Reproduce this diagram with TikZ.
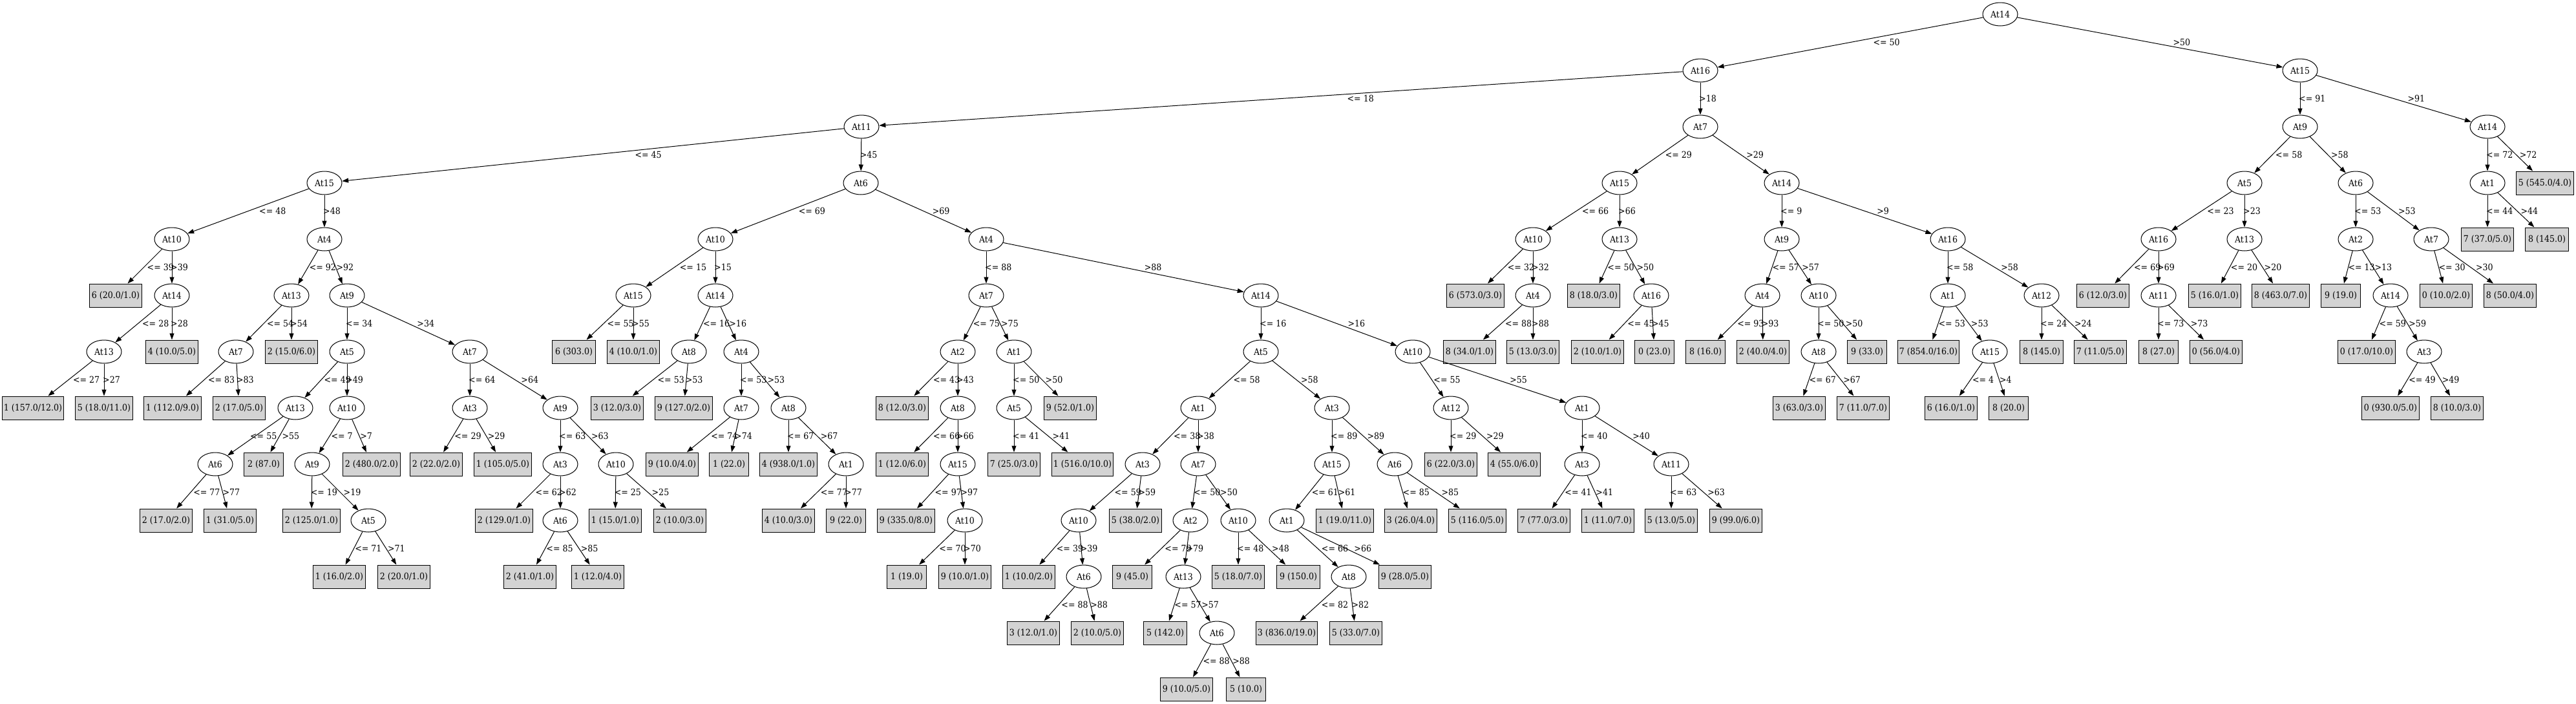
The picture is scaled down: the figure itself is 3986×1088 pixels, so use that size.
\documentclass[tikz,border=0pt]{standalone}
\usepackage{fontspec}
\setmainfont{DejaVu Serif}[FakeStretch=0.9]
\newfontfamily\tms{Liberation Serif}
\usetikzlibrary{arrows.meta,shapes.geometric,calc}
\definecolor{leafgray}{HTML}{D3D3D3}
\newlength\leafwd
% leaf box is as wide as the Times text plus margins
\newcommand\lw[1]{\settowidth\leafwd{\tms #1}\addtolength\leafwd{16pt}\makebox[\leafwd]{#1}}
% arrow from parent to child, label right of its middle
\newcommand\splitedge[4][0]{%
  \draw[branch] (#2) -- (#3);
  \path let \p1=(#2), \p2=(#3) in ($(#2)!0.5!(#3)$) ++({7*abs((\x2)-(\x1))/((\y1)-(\y2))-2+#1},0) node[cond] {#4};}

\begin{document}
\begin{tikzpicture}[x=1pt,y=1pt,font=\fontsize{14}{16}\selectfont,
  attr/.style={ellipse, draw, line width=1pt, minimum width=54pt, minimum height=36pt, inner sep=0pt},
  leaf/.style={rectangle, draw, line width=1pt, fill=leafgray, minimum width=54pt, minimum height=36pt, inner sep=0pt},
  branch/.style={line width=1pt, -{Triangle[length=10pt,width=7pt]}},
  cond/.style={anchor=west, inner sep=0pt}]
\useasboundingbox (0,0) rectangle (3986,-1088);
% rows at y = 22 + 87k
\node[attr] (x) at (3095,-22) {At14};
\node[attr] (xl) at (2631,-109) {At16};
\node[attr] (xr) at (3559,-109) {At15};
\node[attr] (xll) at (1333,-196) {At11};
\node[attr] (xlr) at (2631,-196) {At7};
\node[attr] (xlll) at (502,-283) {At15};
\node[attr] (xllr) at (1332,-283) {At6};
\node[attr] (xllll) at (266,-370) {At10};
\node[attr] (xlllr) at (502,-370) {At4};
\node[leaf] (xlllll) at (179,-457) {\lw{6 (20.0/1.0)}};
\node[attr] (xllllr) at (266,-457) {At14};
\node[attr] (xllllrl) at (161,-544) {At13};
\node[leaf] (xllllrr) at (266,-544) {\lw{4 (10.0/5.0)}};
\node[leaf] (xllllrll) at (51,-631) {\lw{1 (157.0/12.0)}};
\node[leaf] (xllllrlr) at (161,-631) {\lw{5 (18.0/11.0)}};
\node[attr] (xlllrl) at (451,-457) {At13};
\node[attr] (xlllrr) at (537,-457) {At9};
\node[attr] (xlllrll) at (365,-544) {At7};
\node[leaf] (xlllrlr) at (451,-544) {\lw{2 (15.0/6.0)}};
\node[leaf] (xlllrlll) at (267,-631) {\lw{1 (112.0/9.0)}};
\node[leaf] (xlllrllr) at (370,-631) {\lw{2 (17.0/5.0)}};
\node[attr] (xlllrrl) at (537,-544) {At5};
\node[attr] (xlllrrr) at (727,-544) {At7};
\node[attr] (xlllrrll) at (457,-631) {At13};
\node[attr] (xlllrrlr) at (537,-631) {At10};
\node[attr] (xlllrrlll) at (333,-718) {At6};
\node[leaf] (xlllrrllr) at (408,-718) {\lw{2 (87.0)}};
\node[leaf] (xlllrrllll) at (257,-805) {\lw{2 (17.0/2.0)}};
\node[leaf] (xlllrrlllr) at (356,-805) {\lw{1 (31.0/5.0)}};
\node[attr] (xlllrrlrl) at (483,-718) {At9};
\node[leaf] (xlllrrlrr) at (575,-718) {\lw{2 (480.0/2.0)}};
\node[leaf] (xlllrrlrll) at (482,-805) {\lw{2 (125.0/1.0)}};
\node[attr] (xlllrrlrlr) at (570,-805) {At5};
\node[leaf] (xlllrrlrlrl) at (525,-892) {\lw{1 (16.0/2.0)}};
\node[leaf] (xlllrrlrlrr) at (625,-892) {\lw{2 (20.0/1.0)}};
\node[attr] (xlllrrrl) at (727,-631) {At3};
\node[attr] (xlllrrrr) at (867,-631) {At9};
\node[leaf] (xlllrrrll) at (675,-718) {\lw{2 (22.0/2.0)}};
\node[leaf] (xlllrrrlr) at (778,-718) {\lw{1 (105.0/5.0)}};
\node[attr] (xlllrrrrl) at (867,-718) {At3};
\node[attr] (xlllrrrrr) at (953,-718) {At10};
\node[leaf] (xlllrrrrll) at (780,-805) {\lw{2 (129.0/1.0)}};
\node[attr] (xlllrrrrlr) at (867,-805) {At6};
\node[leaf] (xlllrrrrlrl) at (820,-892) {\lw{2 (41.0/1.0)}};
\node[leaf] (xlllrrrrlrr) at (925,-892) {\lw{1 (12.0/4.0)}};
\node[leaf] (xlllrrrrrl) at (952,-805) {\lw{1 (15.0/1.0)}};
\node[leaf] (xlllrrrrrr) at (1052,-805) {\lw{2 (10.0/3.0)}};
\node[attr] (xllrl) at (1107,-370) {At10};
\node[attr] (xllrr) at (1526,-370) {At4};
\node[attr] (xllrll) at (980,-457) {At15};
\node[attr] (xllrlr) at (1107,-457) {At14};
\node[leaf] (xllrlll) at (888,-544) {\lw{6 (303.0)}};
\node[leaf] (xllrllr) at (980,-544) {\lw{4 (10.0/1.0)}};
\node[attr] (xllrlrl) at (1066,-544) {At8};
\node[attr] (xllrlrr) at (1147,-544) {At4};
\node[leaf] (xllrlrll) at (955,-631) {\lw{3 (12.0/3.0)}};
\node[leaf] (xllrlrlr) at (1058,-631) {\lw{9 (127.0/2.0)}};
\node[attr] (xllrlrrl) at (1147,-631) {At7};
\node[attr] (xllrlrrr) at (1220,-631) {At8};
\node[leaf] (xllrlrrll) at (1040,-718) {\lw{9 (10.0/4.0)}};
\node[leaf] (xllrlrrlr) at (1128,-718) {\lw{1 (22.0)}};
\node[leaf] (xllrlrrrl) at (1220,-718) {\lw{4 (938.0/1.0)}};
\node[attr] (xllrlrrrr) at (1309,-718) {At1};
\node[leaf] (xllrlrrrrl) at (1220,-805) {\lw{4 (10.0/3.0)}};
\node[leaf] (xllrlrrrrr) at (1309,-805) {\lw{9 (22.0)}};
\node[attr] (xllrrl) at (1526,-457) {At7};
\node[attr] (xllrrr) at (1951,-457) {At14};
\node[attr] (xllrrll) at (1482,-544) {At2};
\node[attr] (xllrrlr) at (1569,-544) {At1};
\node[leaf] (xllrrlll) at (1396,-631) {\lw{8 (12.0/3.0)}};
\node[attr] (xllrrllr) at (1482,-631) {At8};
\node[leaf] (xllrrllrl) at (1396,-718) {\lw{1 (12.0/6.0)}};
\node[attr] (xllrrllrr) at (1482,-718) {At15};
\node[leaf] (xllrrllrrl) at (1402,-805) {\lw{9 (335.0/8.0)}};
\node[attr] (xllrrllrrr) at (1493,-805) {At10};
\node[leaf] (xllrrllrrrl) at (1403,-892) {\lw{1 (19.0)}};
\node[leaf] (xllrrllrrrr) at (1493,-892) {\lw{9 (10.0/1.0)}};
\node[attr] (xllrrlrl) at (1569,-631) {At5};
\node[leaf] (xllrrlrr) at (1656,-631) {\lw{9 (52.0/1.0)}};
\node[leaf] (xllrrlrll) at (1569,-718) {\lw{7 (25.0/3.0)}};
\node[leaf] (xllrrlrlr) at (1675,-718) {\lw{1 (516.0/10.0)}};
\node[attr] (xllrrrl) at (1951,-544) {At5};
\node[attr] (xllrrrr) at (2186,-544) {At10};
\node[attr] (xllrrrll) at (1854,-631) {At1};
\node[attr] (xllrrrlr) at (2061,-631) {At3};
\node[attr] (xllrrrlll) at (1768,-718) {At3};
\node[attr] (xllrrrllr) at (1854,-718) {At7};
\node[attr] (xllrrrllll) at (1669,-805) {At10};
\node[leaf] (xllrrrlllr) at (1757,-805) {\lw{5 (38.0/2.0)}};
\node[leaf] (xllrrrlllll) at (1592,-892) {\lw{1 (10.0/2.0)}};
\node[attr] (xllrrrllllr) at (1677,-892) {At6};
\node[leaf] (xllrrrllllrl) at (1599,-979) {\lw{3 (12.0/1.0)}};
\node[leaf] (xllrrrllllrr) at (1698,-979) {\lw{2 (10.0/5.0)}};
\node[attr] (xllrrrllrl) at (1842,-805) {At2};
\node[attr] (xllrrrllrr) at (1916,-805) {At10};
\node[leaf] (xllrrrllrll) at (1752,-892) {\lw{9 (45.0)}};
\node[attr] (xllrrrllrlr) at (1831,-892) {At13};
\node[leaf] (xllrrrllrlrl) at (1803,-979) {\lw{5 (142.0)}};
\node[attr] (xllrrrllrlrr) at (1883,-979) {At6};
\node[leaf] (xllrrrllrlrrl) at (1836,-1066) {\lw{9 (10.0/5.0)}};
\node[leaf] (xllrrrllrlrrr) at (1928,-1066) {\lw{5 (10.0)}};
\node[leaf] (xllrrrllrrl) at (1916,-892) {\lw{5 (18.0/7.0)}};
\node[leaf] (xllrrrllrrr) at (2009,-892) {\lw{9 (150.0)}};
\node[attr] (xllrrrlrl) at (2061,-718) {At15};
\node[attr] (xllrrrlrr) at (2158,-718) {At6};
\node[attr] (xllrrrlrll) at (1991,-805) {At1};
\node[leaf] (xllrrrlrlr) at (2081,-805) {\lw{1 (19.0/11.0)}};
\node[attr] (xllrrrlrlll) at (2087,-892) {At8};
\node[leaf] (xllrrrlrllr) at (2174,-892) {\lw{9 (28.0/5.0)}};
\node[leaf] (xllrrrlrllll) at (1991,-979) {\lw{3 (836.0/19.0)}};
\node[leaf] (xllrrrlrlllr) at (2098,-979) {\lw{5 (33.0/7.0)}};
\node[leaf] (xllrrrlrrl) at (2183,-805) {\lw{3 (26.0/4.0)}};
\node[leaf] (xllrrrlrrr) at (2286,-805) {\lw{5 (116.0/5.0)}};
\node[attr] (xllrrrrl) at (2245,-631) {At12};
\node[attr] (xllrrrrr) at (2448,-631) {At1};
\node[leaf] (xllrrrrll) at (2245,-718) {\lw{6 (22.0/3.0)}};
\node[leaf] (xllrrrrlr) at (2343,-718) {\lw{4 (55.0/6.0)}};
\node[attr] (xllrrrrrl) at (2448,-718) {At3};
\node[attr] (xllrrrrrr) at (2586,-718) {At11};
\node[leaf] (xllrrrrrll) at (2389,-805) {\lw{7 (77.0/3.0)}};
\node[leaf] (xllrrrrrlr) at (2488,-805) {\lw{1 (11.0/7.0)}};
\node[leaf] (xllrrrrrrl) at (2586,-805) {\lw{5 (13.0/5.0)}};
\node[leaf] (xllrrrrrrr) at (2686,-805) {\lw{9 (99.0/6.0)}};
\node[attr] (xlrl) at (2506,-283) {At15};
\node[attr] (xlrr) at (2757,-283) {At14};
\node[attr] (xlrll) at (2372,-370) {At10};
\node[attr] (xlrlr) at (2506,-370) {At13};
\node[leaf] (xlrlll) at (2283,-457) {\lw{6 (573.0/3.0)}};
\node[attr] (xlrllr) at (2372,-457) {At4};
\node[leaf] (xlrllrl) at (2274,-544) {\lw{8 (34.0/1.0)}};
\node[leaf] (xlrllrr) at (2372,-544) {\lw{5 (13.0/3.0)}};
\node[leaf] (xlrlrl) at (2466,-457) {\lw{8 (18.0/3.0)}};
\node[attr] (xlrlrr) at (2555,-457) {At16};
\node[leaf] (xlrlrrl) at (2472,-544) {\lw{2 (10.0/1.0)}};
\node[leaf] (xlrlrrr) at (2560,-544) {\lw{0 (23.0)}};
\node[attr] (xlrrl) at (2757,-370) {At9};
\node[attr] (xlrrr) at (3014,-370) {At16};
\node[attr] (xlrrll) at (2727,-457) {At4};
\node[attr] (xlrrlr) at (2814,-457) {At10};
\node[leaf] (xlrrlll) at (2639,-544) {\lw{8 (16.0)}};
\node[leaf] (xlrrllr) at (2728,-544) {\lw{2 (40.0/4.0)}};
\node[attr] (xlrrlrl) at (2814,-544) {At8};
\node[leaf] (xlrrlrr) at (2889,-544) {\lw{9 (33.0)}};
\node[leaf] (xlrrlrll) at (2784,-631) {\lw{3 (63.0/3.0)}};
\node[leaf] (xlrrlrlr) at (2883,-631) {\lw{7 (11.0/7.0)}};
\node[attr] (xlrrrl) at (3014,-457) {At1};
\node[attr] (xlrrrr) at (3159,-457) {At12};
\node[leaf] (xlrrrll) at (2984,-544) {\lw{7 (854.0/16.0)}};
\node[attr] (xlrrrlr) at (3079,-544) {At15};
\node[leaf] (xlrrrlrl) at (3019,-631) {\lw{6 (16.0/1.0)}};
\node[leaf] (xlrrrlrr) at (3108,-631) {\lw{8 (20.0)}};
\node[leaf] (xlrrrrl) at (3159,-544) {\lw{8 (145.0)}};
\node[leaf] (xlrrrrr) at (3250,-544) {\lw{7 (11.0/5.0)}};
\node[attr] (xrl) at (3559,-196) {At9};
\node[attr] (xrr) at (3849,-196) {At14};
\node[attr] (xrll) at (3473,-283) {At5};
\node[attr] (xrlr) at (3645,-283) {At6};
\node[attr] (xrlll) at (3340,-370) {At16};
\node[attr] (xrllr) at (3473,-370) {At13};
\node[leaf] (xrllll) at (3254,-457) {\lw{6 (12.0/3.0)}};
\node[attr] (xrlllr) at (3340,-457) {At11};
\node[leaf] (xrlllrl) at (3340,-544) {\lw{8 (27.0)}};
\node[leaf] (xrlllrr) at (3429,-544) {\lw{0 (56.0/4.0)}};
\node[leaf] (xrllrl) at (3427,-457) {\lw{5 (16.0/1.0)}};
\node[leaf] (xrllrr) at (3529,-457) {\lw{8 (463.0/7.0)}};
\node[attr] (xrlrl) at (3645,-370) {At2};
\node[attr] (xrlrr) at (3762,-370) {At7};
\node[leaf] (xrlrll) at (3622,-457) {\lw{9 (19.0)}};
\node[attr] (xrlrlr) at (3699,-457) {At14};
\node[leaf] (xrlrlrl) at (3662,-544) {\lw{0 (17.0/10.0)}};
\node[attr] (xrlrlrr) at (3751,-544) {At3};
\node[leaf] (xrlrlrrl) at (3699,-631) {\lw{0 (930.0/5.0)}};
\node[leaf] (xrlrlrrr) at (3802,-631) {\lw{8 (10.0/3.0)}};
\node[leaf] (xrlrrl) at (3785,-457) {\lw{0 (10.0/2.0)}};
\node[leaf] (xrlrrr) at (3884,-457) {\lw{8 (50.0/4.0)}};
\node[attr] (xrrl) at (3849,-283) {At1};
\node[leaf] (xrrr) at (3938,-283) {\lw{5 (545.0/4.0)}};
\node[leaf] (xrrll) at (3849,-370) {\lw{7 (37.0/5.0)}};
\node[leaf] (xrrlr) at (3941,-370) {\lw{8 (145.0)}};
% branches
\splitedge{x}{xl}{<= 50}
\splitedge{x}{xr}{>50}
\splitedge{xl}{xll}{<= 18}
\splitedge{xl}{xlr}{>18}
\splitedge{xll}{xlll}{<= 45}
\splitedge{xll}{xllr}{>45}
\splitedge{xlll}{xllll}{<= 48}
\splitedge{xlll}{xlllr}{>48}
\splitedge{xllll}{xlllll}{<= 39}
\splitedge{xllll}{xllllr}{>39}
\splitedge{xllllr}{xllllrl}{<= 28}
\splitedge{xllllr}{xllllrr}{>28}
\splitedge{xllllrl}{xllllrll}{<= 27}
\splitedge{xllllrl}{xllllrlr}{>27}
\splitedge{xlllr}{xlllrl}{<= 92}
\splitedge{xlllr}{xlllrr}{>92}
\splitedge{xlllrl}{xlllrll}{<= 54}
\splitedge{xlllrl}{xlllrlr}{>54}
\splitedge{xlllrll}{xlllrlll}{<= 83}
\splitedge{xlllrll}{xlllrllr}{>83}
\splitedge{xlllrr}{xlllrrl}{<= 34}
\splitedge{xlllrr}{xlllrrr}{>34}
\splitedge{xlllrrl}{xlllrrll}{<= 49}
\splitedge{xlllrrl}{xlllrrlr}{>49}
\splitedge[-16]{xlllrrll}{xlllrrlll}{<= 55}
\splitedge[2]{xlllrrll}{xlllrrllr}{>55}
\splitedge{xlllrrlll}{xlllrrllll}{<= 77}
\splitedge{xlllrrlll}{xlllrrlllr}{>77}
\splitedge{xlllrrlr}{xlllrrlrl}{<= 7}
\splitedge{xlllrrlr}{xlllrrlrr}{>7}
\splitedge{xlllrrlrl}{xlllrrlrll}{<= 19}
\splitedge{xlllrrlrl}{xlllrrlrlr}{>19}
\splitedge{xlllrrlrlr}{xlllrrlrlrl}{<= 71}
\splitedge{xlllrrlrlr}{xlllrrlrlrr}{>71}
\splitedge{xlllrrr}{xlllrrrl}{<= 64}
\splitedge{xlllrrr}{xlllrrrr}{>64}
\splitedge{xlllrrrl}{xlllrrrll}{<= 29}
\splitedge{xlllrrrl}{xlllrrrlr}{>29}
\splitedge{xlllrrrr}{xlllrrrrl}{<= 63}
\splitedge{xlllrrrr}{xlllrrrrr}{>63}
\splitedge{xlllrrrrl}{xlllrrrrll}{<= 62}
\splitedge{xlllrrrrl}{xlllrrrrlr}{>62}
\splitedge{xlllrrrrlr}{xlllrrrrlrl}{<= 85}
\splitedge{xlllrrrrlr}{xlllrrrrlrr}{>85}
\splitedge{xlllrrrrr}{xlllrrrrrl}{<= 25}
\splitedge{xlllrrrrr}{xlllrrrrrr}{>25}
\splitedge{xllr}{xllrl}{<= 69}
\splitedge{xllr}{xllrr}{>69}
\splitedge{xllrl}{xllrll}{<= 15}
\splitedge{xllrl}{xllrlr}{>15}
\splitedge{xllrll}{xllrlll}{<= 55}
\splitedge{xllrll}{xllrllr}{>55}
\splitedge{xllrlr}{xllrlrl}{<= 16}
\splitedge{xllrlr}{xllrlrr}{>16}
\splitedge{xllrlrl}{xllrlrll}{<= 53}
\splitedge{xllrlrl}{xllrlrlr}{>53}
\splitedge{xllrlrr}{xllrlrrl}{<= 53}
\splitedge{xllrlrr}{xllrlrrr}{>53}
\splitedge{xllrlrrl}{xllrlrrll}{<= 74}
\splitedge{xllrlrrl}{xllrlrrlr}{>74}
\splitedge{xllrlrrr}{xllrlrrrl}{<= 67}
\splitedge{xllrlrrr}{xllrlrrrr}{>67}
\splitedge{xllrlrrrr}{xllrlrrrrl}{<= 77}
\splitedge{xllrlrrrr}{xllrlrrrrr}{>77}
\splitedge{xllrr}{xllrrl}{<= 88}
\splitedge{xllrr}{xllrrr}{>88}
\splitedge{xllrrl}{xllrrll}{<= 75}
\splitedge{xllrrl}{xllrrlr}{>75}
\splitedge{xllrrll}{xllrrlll}{<= 43}
\splitedge{xllrrll}{xllrrllr}{>43}
\splitedge{xllrrllr}{xllrrllrl}{<= 66}
\splitedge{xllrrllr}{xllrrllrr}{>66}
\splitedge{xllrrllrr}{xllrrllrrl}{<= 97}
\splitedge{xllrrllrr}{xllrrllrrr}{>97}
\splitedge{xllrrllrrr}{xllrrllrrrl}{<= 70}
\splitedge{xllrrllrrr}{xllrrllrrrr}{>70}
\splitedge{xllrrlr}{xllrrlrl}{<= 50}
\splitedge{xllrrlr}{xllrrlrr}{>50}
\splitedge{xllrrlrl}{xllrrlrll}{<= 41}
\splitedge{xllrrlrl}{xllrrlrlr}{>41}
\splitedge{xllrrr}{xllrrrl}{<= 16}
\splitedge{xllrrr}{xllrrrr}{>16}
\splitedge{xllrrrl}{xllrrrll}{<= 58}
\splitedge{xllrrrl}{xllrrrlr}{>58}
\splitedge{xllrrrll}{xllrrrlll}{<= 38}
\splitedge{xllrrrll}{xllrrrllr}{>38}
\splitedge{xllrrrlll}{xllrrrllll}{<= 59}
\splitedge{xllrrrlll}{xllrrrlllr}{>59}
\splitedge{xllrrrllll}{xllrrrlllll}{<= 39}
\splitedge{xllrrrllll}{xllrrrllllr}{>39}
\splitedge{xllrrrllllr}{xllrrrllllrl}{<= 88}
\splitedge{xllrrrllllr}{xllrrrllllrr}{>88}
\splitedge{xllrrrllr}{xllrrrllrl}{<= 50}
\splitedge{xllrrrllr}{xllrrrllrr}{>50}
\splitedge{xllrrrllrl}{xllrrrllrll}{<= 79}
\splitedge{xllrrrllrl}{xllrrrllrlr}{>79}
\splitedge{xllrrrllrlr}{xllrrrllrlrl}{<= 57}
\splitedge{xllrrrllrlr}{xllrrrllrlrr}{>57}
\splitedge{xllrrrllrlrr}{xllrrrllrlrrl}{<= 88}
\splitedge{xllrrrllrlrr}{xllrrrllrlrrr}{>88}
\splitedge{xllrrrllrr}{xllrrrllrrl}{<= 48}
\splitedge{xllrrrllrr}{xllrrrllrrr}{>48}
\splitedge{xllrrrlr}{xllrrrlrl}{<= 89}
\splitedge{xllrrrlr}{xllrrrlrr}{>89}
\splitedge{xllrrrlrl}{xllrrrlrll}{<= 61}
\splitedge{xllrrrlrl}{xllrrrlrlr}{>61}
\splitedge{xllrrrlrll}{xllrrrlrlll}{<= 66}
\splitedge{xllrrrlrll}{xllrrrlrllr}{>66}
\splitedge{xllrrrlrlll}{xllrrrlrllll}{<= 82}
\splitedge{xllrrrlrlll}{xllrrrlrlllr}{>82}
\splitedge{xllrrrlrr}{xllrrrlrrl}{<= 85}
\splitedge{xllrrrlrr}{xllrrrlrrr}{>85}
\splitedge{xllrrrr}{xllrrrrl}{<= 55}
\splitedge{xllrrrr}{xllrrrrr}{>55}
\splitedge{xllrrrrl}{xllrrrrll}{<= 29}
\splitedge{xllrrrrl}{xllrrrrlr}{>29}
\splitedge{xllrrrrr}{xllrrrrrl}{<= 40}
\splitedge{xllrrrrr}{xllrrrrrr}{>40}
\splitedge{xllrrrrrl}{xllrrrrrll}{<= 41}
\splitedge{xllrrrrrl}{xllrrrrrlr}{>41}
\splitedge{xllrrrrrr}{xllrrrrrrl}{<= 63}
\splitedge{xllrrrrrr}{xllrrrrrrr}{>63}
\splitedge{xlr}{xlrl}{<= 29}
\splitedge{xlr}{xlrr}{>29}
\splitedge{xlrl}{xlrll}{<= 66}
\splitedge{xlrl}{xlrlr}{>66}
\splitedge{xlrll}{xlrlll}{<= 32}
\splitedge{xlrll}{xlrllr}{>32}
\splitedge{xlrllr}{xlrllrl}{<= 88}
\splitedge{xlrllr}{xlrllrr}{>88}
\splitedge{xlrlr}{xlrlrl}{<= 50}
\splitedge{xlrlr}{xlrlrr}{>50}
\splitedge{xlrlrr}{xlrlrrl}{<= 45}
\splitedge{xlrlrr}{xlrlrrr}{>45}
\splitedge{xlrr}{xlrrl}{<= 9}
\splitedge{xlrr}{xlrrr}{>9}
\splitedge{xlrrl}{xlrrll}{<= 57}
\splitedge{xlrrl}{xlrrlr}{>57}
\splitedge{xlrrll}{xlrrlll}{<= 93}
\splitedge{xlrrll}{xlrrllr}{>93}
\splitedge{xlrrlr}{xlrrlrl}{<= 50}
\splitedge{xlrrlr}{xlrrlrr}{>50}
\splitedge{xlrrlrl}{xlrrlrll}{<= 67}
\splitedge{xlrrlrl}{xlrrlrlr}{>67}
\splitedge{xlrrr}{xlrrrl}{<= 58}
\splitedge{xlrrr}{xlrrrr}{>58}
\splitedge{xlrrrl}{xlrrrll}{<= 53}
\splitedge{xlrrrl}{xlrrrlr}{>53}
\splitedge{xlrrrlr}{xlrrrlrl}{<= 4}
\splitedge{xlrrrlr}{xlrrrlrr}{>4}
\splitedge{xlrrrr}{xlrrrrl}{<= 24}
\splitedge{xlrrrr}{xlrrrrr}{>24}
\splitedge{xr}{xrl}{<= 91}
\splitedge{xr}{xrr}{>91}
\splitedge{xrl}{xrll}{<= 58}
\splitedge{xrl}{xrlr}{>58}
\splitedge{xrll}{xrlll}{<= 23}
\splitedge{xrll}{xrllr}{>23}
\splitedge{xrlll}{xrllll}{<= 69}
\splitedge{xrlll}{xrlllr}{>69}
\splitedge{xrlllr}{xrlllrl}{<= 73}
\splitedge{xrlllr}{xrlllrr}{>73}
\splitedge{xrllr}{xrllrl}{<= 20}
\splitedge{xrllr}{xrllrr}{>20}
\splitedge{xrlr}{xrlrl}{<= 53}
\splitedge{xrlr}{xrlrr}{>53}
\splitedge{xrlrl}{xrlrll}{<= 13}
\splitedge{xrlrl}{xrlrlr}{>13}
\splitedge{xrlrlr}{xrlrlrl}{<= 59}
\splitedge{xrlrlr}{xrlrlrr}{>59}
\splitedge{xrlrlrr}{xrlrlrrl}{<= 49}
\splitedge{xrlrlrr}{xrlrlrrr}{>49}
\splitedge{xrlrr}{xrlrrl}{<= 30}
\splitedge{xrlrr}{xrlrrr}{>30}
\splitedge{xrr}{xrrl}{<= 72}
\splitedge{xrr}{xrrr}{>72}
\splitedge{xrrl}{xrrll}{<= 44}
\splitedge{xrrl}{xrrlr}{>44}
\end{tikzpicture}
\end{document}
